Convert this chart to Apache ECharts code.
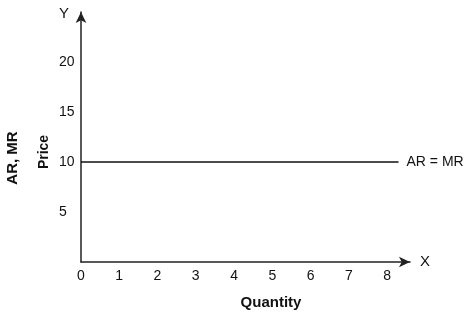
<!DOCTYPE html>
<html><head><meta charset="utf-8">
<script src="https://cdn.jsdelivr.net/npm/echarts@6/dist/echarts.min.js"></script>
<style>html,body{margin:0;padding:0;background:#fff}#c{width:475px;height:315px}</style>
</head><body><div id="c"></div>
<script>
var quantity = [0, 8.3];
var price = [10, 10];
var xTicks = [0, 1, 2, 3, 4, 5, 6, 7, 8];
var yTicks = [5, 10, 15, 20];
var lineLabel = 'AR = MR';

var chart = echarts.init(document.getElementById('c'), null, {renderer: 'canvas'});
var font = '"Liberation Sans", Arial, sans-serif';
var ink = '#111';
chart.setOption({
  animation: false,
  grid: {left: 81, top: 12, width: 329, height: 250},
  xAxis: {
    type: 'value', min: 0, max: 8.6, interval: 1,
    name: 'X', nameLocation: 'end', nameGap: 10,
    nameTextStyle: {color: ink, fontSize: 15, fontFamily: font, verticalAlign: 'middle'},
    axisLine: {show: true, onZero: false, lineStyle: {color: '#222', width: 1.5}, symbol: ['none', 'arrow'], symbolSize: [8, 11]},
    axisTick: {show: false}, splitLine: {show: false},
    axisLabel: {color: ink, fontSize: 14, fontFamily: font, margin: 7, showMaxLabel: false,
      formatter: function (v) { return xTicks.indexOf(v) >= 0 ? String(v) : ''; }}
  },
  yAxis: {
    type: 'value', min: 0, max: 25, interval: 5,
    name: 'Y', nameLocation: 'end', nameGap: -2,
    nameTextStyle: {color: ink, fontSize: 15, fontFamily: font, align: 'right', verticalAlign: 'middle', padding: [0, 12, 0, 0]},
    axisLine: {show: true, onZero: false, lineStyle: {color: '#222', width: 1.5}, symbol: ['none', 'arrow'], symbolSize: [8, 11]},
    axisTick: {show: false}, splitLine: {show: false},
    axisLabel: {color: ink, fontSize: 14, fontFamily: font, margin: 22, align: 'left',
      formatter: function (v) { return yTicks.indexOf(v) >= 0 ? String(v) : ''; }}
  },
  series: [{
    type: 'line', data: quantity.map(function (q, i) { return [q, price[i]]; }),
    symbol: 'none', lineStyle: {color: '#111', width: 1.3},
    endLabel: {show: true, formatter: lineLabel, color: ink, fontSize: 14, fontFamily: font, distance: 8}
  }],
  graphic: [
    {type: 'text', x: 271, y: 303, style: {text: 'Quantity', font: 'bold 15px ' + font, fill: ink, align: 'center', verticalAlign: 'middle'}},
    {type: 'text', x: 44, y: 152, rotation: Math.PI / 2, style: {text: 'Price', font: 'bold 14px ' + font, fill: ink, align: 'center', verticalAlign: 'middle'}},
    {type: 'text', x: 13, y: 158, rotation: Math.PI / 2, style: {text: 'AR, MR', font: 'bold 15px ' + font, fill: ink, align: 'center', verticalAlign: 'middle'}}
  ]
});
</script></body></html>
